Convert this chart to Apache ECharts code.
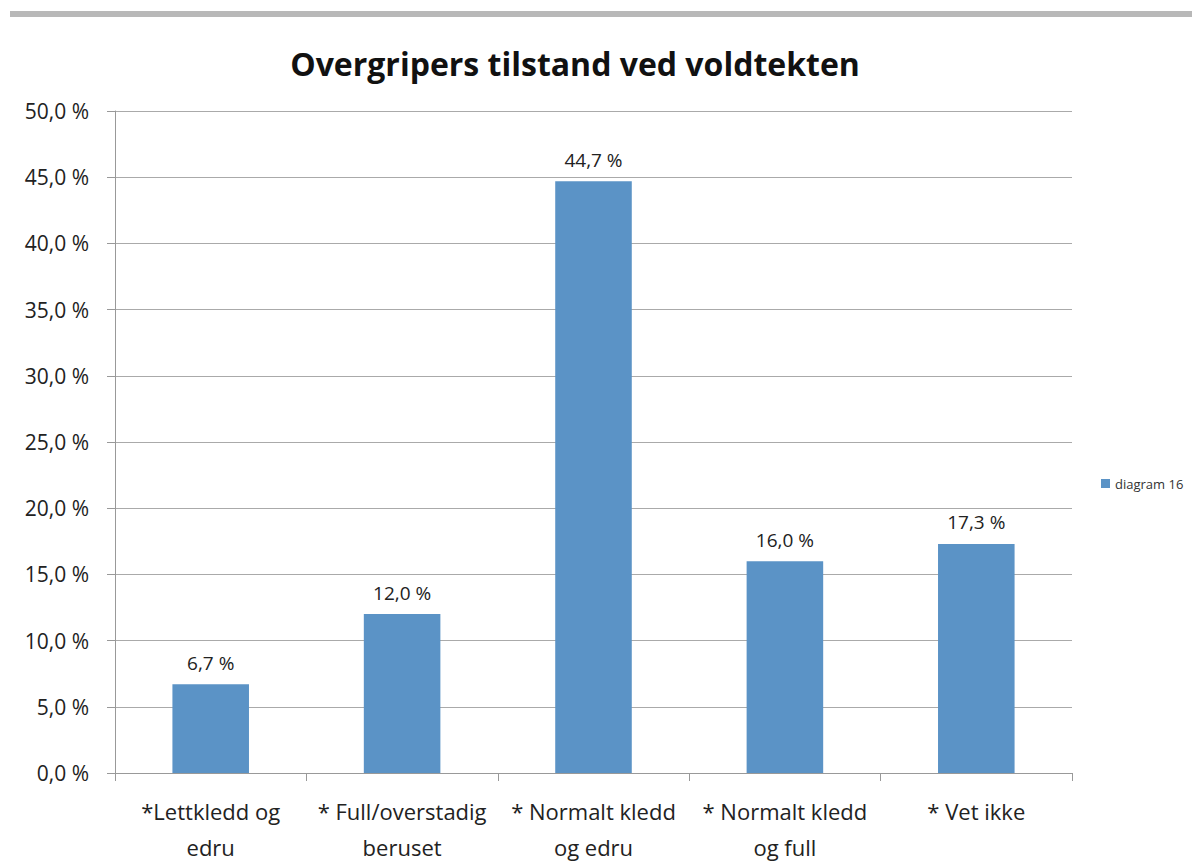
<!DOCTYPE html>
<html>
<head>
<meta charset="utf-8">
<script src="https://cdn.jsdelivr.net/npm/echarts@6/dist/echarts.min.js"></script>
<style>
  html, body { margin: 0; padding: 0; background: #fff; }
  #chart { width: 1192px; height: 867px; }
</style>
</head>
<body>
<div id="chart"></div>
<script>
const categories = ['*Lettkledd og\nedru', '* Full/overstadig\nberuset', '* Normalt kledd\nog edru', '* Normalt kledd\nog full', '* Vet ikke'];
const values = [6.7, 12.0, 44.7, 16.0, 17.3];
const seriesName = 'diagram 16';

const fmt = (v) => v.toFixed(1).replace('.', ',') + ' %';
const font = '"Open Sans", "Liberation Sans", sans-serif';

const chart = echarts.init(document.getElementById('chart'), null, {renderer: 'svg'});
chart.setOption({
  animation: false,
  textStyle: {fontFamily: font},
  title: {
    text: 'Overgripers tilstand ved voldtekten',
    left: 570,
    textAlign: 'center',
    top: 42,
    textStyle: {fontSize: 32, fontWeight: 'bold', color: '#111', fontFamily: font}
  },
  graphic: [{
    type: 'rect',
    shape: {x: 10, y: 11, width: 1182, height: 6},
    style: {fill: '#b8b8b8'}
  }],
  legend: {
    left: 1096,
    top: 472,
    itemWidth: 9,
    itemHeight: 9,
    itemGap: 4,
    icon: 'rect',
    textStyle: {fontSize: 13, color: '#333', fontFamily: font},
    data: [seriesName]
  },
  grid: {left: 115, right: 120, top: 111, bottom: 94},
  xAxis: {
    type: 'category',
    data: categories,
    axisLine: {lineStyle: {color: '#999'}},
    axisTick: {show: true, length: 8, lineStyle: {color: '#999'}},
    axisLabel: {fontSize: 22, color: '#222', lineHeight: 36, margin: 20, interval: 0}
  },
  yAxis: {
    type: 'value',
    min: 0,
    max: 50,
    interval: 5,
    axisLine: {show: true, lineStyle: {color: '#999'}},
    axisTick: {show: true, length: 8, lineStyle: {color: '#999'}},
    splitLine: {lineStyle: {color: '#aaa'}},
    axisLabel: {fontSize: 21, color: '#222', margin: 26, formatter: fmt}
  },
  series: [{
    name: seriesName,
    type: 'bar',
    data: values,
    barWidth: '40%',
    itemStyle: {color: '#5b93c6'},
    label: {
      show: true,
      position: 'top',
      distance: 12,
      fontSize: 19,
      color: '#222',
      formatter: (p) => fmt(p.value)
    }
  }]
});
</script>
</body>
</html>
